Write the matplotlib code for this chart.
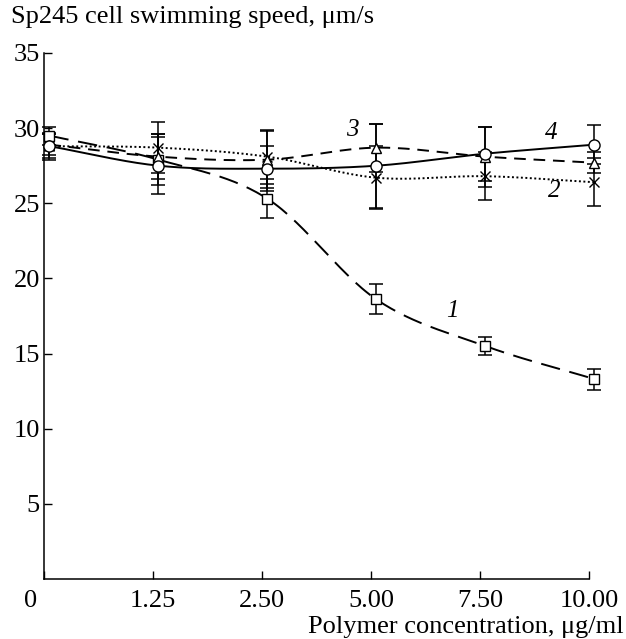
import numpy as np
import matplotlib.pyplot as plt

plt.rcParams['font.family'] = ['Liberation Serif', 'DejaVu Serif']

# ---- data ----
conc_labels = ['0', '1.25', '2.50', '5.00', '7.50', '10.00']
x_pos = np.arange(len(conc_labels)) + 0.05   # points sit a bit right of the ticks

speed1 = [29.5, 27.9, 25.3, 18.6, 15.5, 13.3]
err1 = [0.6, 1.7, 1.3, 1.0, 0.6, 0.7]
speed2 = [28.8, 28.7, 28.1, 26.7, 26.8, 26.4]
err2 = [0.9, 1.7, 1.8, 2.1, 1.6, 1.6]
speed3 = [28.9, 28.1, 27.9, 28.7, 28.1, 27.7]
err3 = [0.7, 1.5, 1.9, 1.6, 2.0, 0.7]
speed4 = [28.8, 27.5, 27.3, 27.5, 28.3, 28.9]
err4 = [0.8, 1.9, 1.5, 2.8, 1.8, 1.3]

FS = 19


def smooth(x, y, n=30):
    # catmull-rom spline, only used to draw the curve through the points
    x = np.asarray(x, float)
    y = np.asarray(y, float)
    px = np.concatenate([[2*x[0]-x[1]], x, [2*x[-1]-x[-2]]])
    py = np.concatenate([[2*y[0]-y[1]], y, [2*y[-1]-y[-2]]])
    xs, ys = [], []
    t = np.linspace(0, 1, n, endpoint=False)
    for i in range(1, len(px) - 2):
        for arr, out in ((px, xs), (py, ys)):
            p0, p1, p2, p3 = arr[i-1], arr[i], arr[i+1], arr[i+2]
            out.append(0.5 * ((2*p1) + (-p0 + p2)*t + (2*p0 - 5*p1 + 4*p2 - p3)*t**2
                              + (-p0 + 3*p1 - 3*p2 + p3)*t**3))
    xs = np.concatenate(xs + [[x[-1]]])
    ys = np.concatenate(ys + [[y[-1]]])
    return xs, ys


fig = plt.figure(figsize=(6.26, 6.39), dpi=100)
ax = fig.add_axes([0.0703, 0.0939, 0.8706, 0.8232])

series = [
    (speed1, err1, 's', (0, (10, 5))),
    (speed2, err2, 'x', (0, (1, 1.3))),
    (speed3, err3, '^', (0, (6, 4))),
    (speed4, err4, 'o', '-'),
]
for y, e, m, ls in series:
    sx, sy = smooth(x_pos, y)
    ax.plot(sx, sy, color='black', linestyle=ls, linewidth=1.4, zorder=2, clip_on=False)
    eb = ax.errorbar(x_pos, y, yerr=e, fmt='none', ecolor='black', elinewidth=1.1,
                     capsize=5, capthick=1.1, zorder=3)
    for art in eb.get_children():
        art.set_clip_on(False)
    ms = 7 if m != 'o' else 8
    ax.plot(x_pos, y, linestyle='none', marker=m, markersize=ms,
            markerfacecolor='white', markeredgecolor='black',
            markeredgewidth=1.0, zorder=4, clip_on=False)

# curve numbers
for txt, tx, ty in [('1', 3.75, 17.8), ('2', 4.68, 25.8), ('3', 2.83, 29.9), ('4', 4.65, 29.7)]:
    ax.text(tx, ty, txt, fontsize=18, style='italic', ha='center', va='center')

ax.set_xlim(0, 5)
ax.set_ylim(0, 35)
ax.set_xticks(np.arange(len(conc_labels)))
ax.set_xticklabels([''] + conc_labels[1:])
ax.set_yticks([5, 10, 15, 20, 25, 30, 35])
ax.tick_params(direction='in', length=6, width=1, labelsize=FS, pad=8)
ax.tick_params(axis='y', pad=3)
# the "0" label sits left of the origin, level with the other tick labels
ax.annotate(conc_labels[0], xy=(0, 0), xycoords='axes fraction', xytext=(-9.5, -8),
            textcoords='offset points', fontsize=FS, ha='center', va='top')

for s in ['top', 'right']:
    ax.spines[s].set_visible(False)
for s in ['left', 'bottom']:
    ax.spines[s].set_linewidth(1.1)

fig.text(0.018, 0.99, 'Sp245 cell swimming speed, μm/s', fontsize=FS, ha='left', va='top')
fig.text(0.996, 0.009, 'Polymer concentration, μg/ml', fontsize=FS, ha='right', va='baseline')

fig.savefig('out.png', dpi=100)
